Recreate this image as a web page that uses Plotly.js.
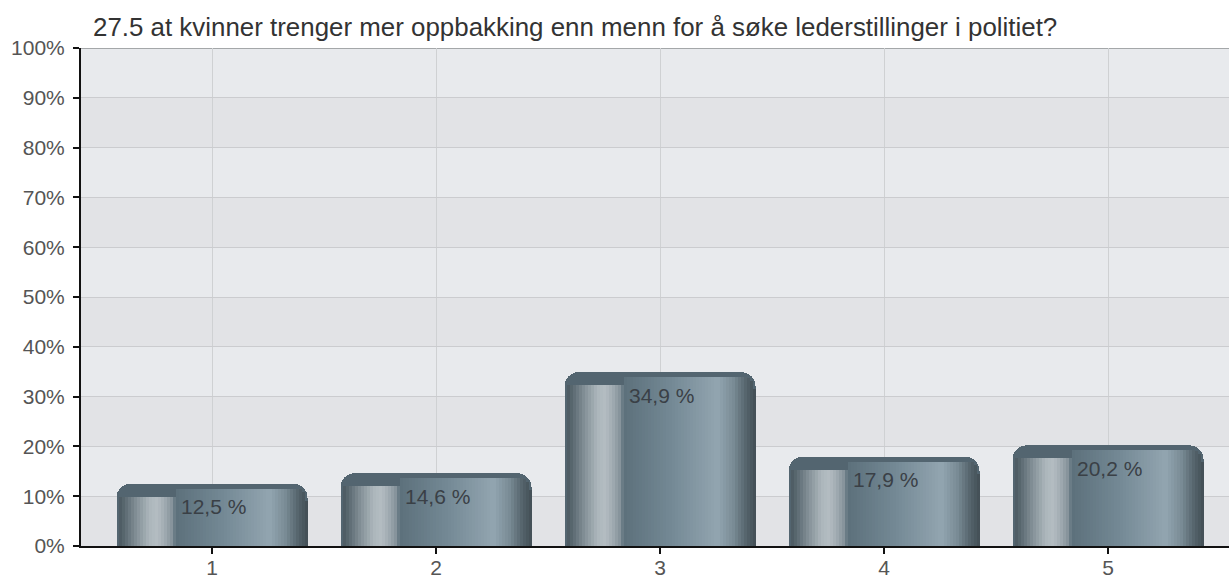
<!DOCTYPE html>
<html>
<head>
<meta charset="utf-8">
<script src="https://cdn.plot.ly/plotly-3.0.1.min.js"></script>
<style>
  html, body { margin: 0; padding: 0; background: #ffffff; }
  #chart { width: 1229px; height: 581px; }
</style>
</head>
<body>
<div id="chart"></div>
<script>
// ---- data ----
const titleText = '27.5 at kvinner trenger mer oppbakking enn menn for å søke lederstillinger i politiet?';
const categories = ['1', '2', '3', '4', '5'];
const values = [12.5, 14.6, 34.9, 17.9, 20.2];
const yTickVals = [0, 10, 20, 30, 40, 50, 60, 70, 80, 90, 100];
const yTickText = ['0%', '10%', '20%', '30%', '40%', '50%', '60%', '70%', '80%', '90%', '100%'];

// ---- style ----
const W = 1229, H = 581;
const M = { l: 81, r: 0, t: 48, b: 35 };
const plotH = H - M.t - M.b;             // px for 0..100
const catPx = 224;                       // px per category
const barPx = 191;                       // bar width in px
const barW = barPx / catPx;
const pxToY = 100 / plotH;
const R = 14;                            // corner radius px
const FONT = 'Liberation Sans, Arial, Helvetica, sans-serif';

const stops = [
  [0.00, [70, 84, 92]],
  [0.03, [84, 99, 107]],
  [0.10, [130, 143, 150]],
  [0.17, [172, 182, 187]],
  [0.21, [180, 189, 194]],
  [0.25, [160, 171, 177]],
  [0.295, [128, 142, 150]],
  [0.305, [92, 112, 123]],
  [0.55, [115, 136, 148]],
  [0.80, [146, 165, 176]],
  [0.88, [122, 140, 150]],
  [0.95, [84, 99, 107]],
  [1.00, [66, 78, 85]]
];
function profile(f) {
  for (let i = 1; i < stops.length; i++) {
    if (f <= stops[i][0]) {
      const a = stops[i - 1], b = stops[i];
      const t = (f - a[0]) / (b[0] - a[0]);
      const c = a[1].map((v, k) => Math.round(v + (b[1][k] - v) * t));
      return 'rgb(' + c.join(',') + ')';
    }
  }
  return 'rgb(66,78,85)';
}
function cornerDrop(d) {
  if (d >= R) return 0;
  const dd = Math.max(d, 0);
  return R - Math.sqrt(R * R - (R - dd) * (R - dd));
}

const traces = [];
// base bar (rounded top, dark cap)
traces.push({
  type: 'bar', x: categories, y: values, width: barW,
  marker: { color: '#536570', cornerradius: R, line: { width: 0 } },
  hoverinfo: 'skip', showlegend: false
});
// gradient strips
const step = 3;
for (let p = 2; p < barPx - 2; p += step) {
  const f = (p + step / 2) / barPx;
  const right = barPx - (p + step);
  let dropPx = p < 57 ? 13 : Math.max(5, cornerDrop(right) + 3);
  dropPx = Math.max(dropPx, cornerDrop(p) + 3);
  traces.push({
    type: 'bar', x: categories,
    y: values.map(v => Math.max(v - dropPx * pxToY, 0)),
    width: (step + 0.8) / catPx,
    offset: -barW / 2 + p / catPx,
    marker: { color: profile(f), line: { width: 0 } },
    hoverinfo: 'skip', showlegend: false
  });
}

// background bands
const shapes = [];
for (let k = 0; k < 10; k++) {
  shapes.push({
    type: 'rect', xref: 'paper', yref: 'y', x0: 0, x1: 1, y0: k * 10, y1: k * 10 + 10,
    fillcolor: k % 2 === 0 ? '#e2e3e6' : '#e8eaed', line: { width: 0 }, layer: 'below'
  });
}
shapes.push({
  type: 'line', xref: 'paper', yref: 'y', x0: 0, x1: 1, y0: 100, y1: 100,
  line: { color: '#8e9092', width: 1.5 }, layer: 'below'
});

const annotations = categories.map((c, i) => ({
  x: i, y: values[i], yshift: -23, xshift: 1, showarrow: false,
  text: values[i].toFixed(1).replace('.', ',') + ' %',
  font: { family: FONT, size: 21, color: '#3a4046' }
}));

const layout = {
  width: W, height: H,
  margin: M,
  paper_bgcolor: '#ffffff', plot_bgcolor: '#e6e8eb',
  barmode: 'overlay', bargap: 0,
  font: { family: FONT, size: 21, color: '#555555' },
  title: {
    text: titleText, xref: 'container', yref: 'container',
    x: 93 / W, xanchor: 'left', y: 1 - 27 / H, yanchor: 'middle',
    font: { family: FONT, size: 25.9, color: '#333333' }
  },
  xaxis: {
    type: 'category', range: [-131 / catPx, 4 + 121 / catPx],
    showgrid: true, gridcolor: '#cfd1d3', gridwidth: 1,
    showline: true, linecolor: '#111111', linewidth: 2,
    ticks: 'outside', ticklen: 6, tickwidth: 2, tickcolor: '#111111',
    ticklabelstandoff: -4, zeroline: false, fixedrange: true,
    tickfont: { family: FONT, size: 21, color: '#555555' }
  },
  yaxis: {
    range: [0, 100], tickvals: yTickVals, ticktext: yTickText,
    showgrid: true, gridcolor: '#cbcccf', gridwidth: 1,
    showline: true, linecolor: '#111111', linewidth: 2,
    ticks: 'outside', ticklen: 6, tickwidth: 2, tickcolor: '#111111',
    ticklabelstandoff: 4, zeroline: false, fixedrange: true,
    tickfont: { family: FONT, size: 21, color: '#555555' }
  },
  shapes: shapes,
  annotations: annotations
};

Plotly.newPlot('chart', traces, layout, { displayModeBar: false, staticPlot: true });
</script>
</body>
</html>
